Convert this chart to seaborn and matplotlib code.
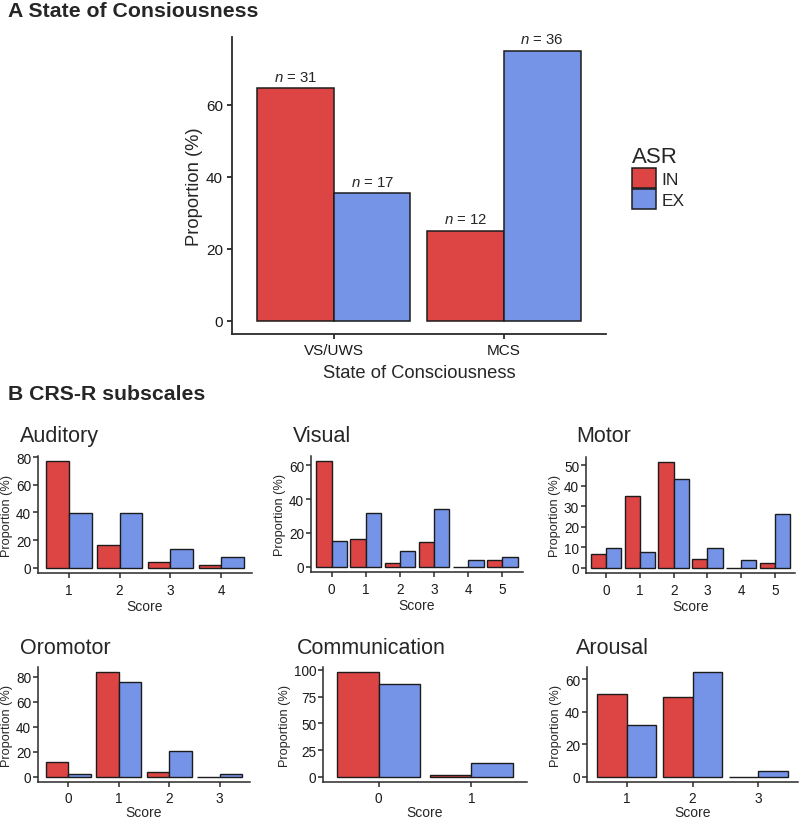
import numpy as np
import pandas as pd
import matplotlib
matplotlib.use("Agg")
import matplotlib.pyplot as plt
import seaborn as sns

# ---------------- data ----------------
groups = ["IN", "EX"]
soc_states = ["VS/UWS", "MCS"]
soc_in = [64.6, 25.0]
soc_ex = [35.4, 75.0]
soc_n_in = [31, 12]
soc_n_ex = [17, 36]

aud_scores = ["1", "2", "3", "4"]
aud_in = [77.1, 16.7, 4.2, 2.1]
aud_ex = [39.6, 39.6, 13.2, 7.5]

vis_scores = ["0", "1", "2", "3", "4", "5"]
vis_in = [62.5, 16.7, 2.1, 14.6, 0.0, 4.2]
vis_ex = [15.1, 32.1, 9.4, 34.0, 3.8, 5.7]

mot_scores = ["0", "1", "2", "3", "4", "5"]
mot_in = [6.6, 35.0, 51.5, 4.2, 0.0, 2.1]
mot_ex = [9.4, 7.5, 43.4, 9.4, 3.8, 26.4]

oro_scores = ["0", "1", "2", "3"]
oro_in = [11.8, 83.7, 4.2, 0.0]
oro_ex = [1.9, 75.5, 20.8, 1.9]

com_scores = ["0", "1"]
com_in = [97.9, 2.1]
com_ex = [86.8, 13.2]

aro_scores = ["1", "2", "3"]
aro_in = [51.1, 48.9, 0.0]
aro_ex = [32.1, 64.2, 3.8]

RED = "#DD4444"
BLUE = "#7594E8"
EDGE = "#1c1c1c"

sns.set_style("ticks")
plt.rcParams["font.family"] = ["Liberation Sans", "DejaVu Sans"]
plt.rcParams["mathtext.fontset"] = "custom"
plt.rcParams["mathtext.it"] = "Liberation Sans:italic"
plt.rcParams["mathtext.rm"] = "Liberation Sans"

W, H = 800, 820
fig = plt.figure(figsize=(W / 100, H / 100), dpi=100)


def add_ax(l, r, t, b):
    return fig.add_axes([l / W, 1 - b / H, (r - l) / W, (b - t) / H])


def long_df(cats, vin, vex, catname):
    return pd.DataFrame({
        catname: list(cats) * 2,
        "prop": list(vin) + list(vex),
        "ASR": ["IN"] * len(cats) + ["EX"] * len(cats),
    })


def style_axes(ax, lw=1.0):
    for s in ["top", "right"]:
        ax.spines[s].set_visible(False)
    for s in ["left", "bottom"]:
        ax.spines[s].set_color("#2a2a2a")
        ax.spines[s].set_linewidth(lw)
    ax.tick_params(axis="both", direction="out", length=3.5, width=lw,
                   color="#2a2a2a", labelcolor="#1a1a1a", pad=2)


# ---------------- Panel A ----------------
fig.text(8 / W, 1 - 17 / H, "A State of Consiousness", fontsize=15.3,
         fontweight="bold", ha="left", va="baseline")

axA = add_ax(232, 606, 38, 335)
dfA = long_df(soc_states, soc_in, soc_ex, "state")
sns.barplot(data=dfA, x="state", y="prop", hue="ASR", order=soc_states,
            hue_order=groups, palette=[RED, BLUE], width=0.9, gap=0,
            edgecolor=EDGE, linewidth=1.1, ax=axA, saturation=1)
mA = max(soc_in + soc_ex)
axA.set_ylim(-0.05 * mA, 1.05 * mA)
axA.set_xlim(-0.6, len(soc_states) - 0.4)
axA.set_yticks([0, 20, 40, 60])
style_axes(axA, 1.3)
axA.tick_params(labelsize=11, pad=3)
axA.set_xlabel("State of Consciousness", fontsize=13.2, labelpad=5)
axA.set_ylabel("Proportion (%)", fontsize=13.2, labelpad=2)
for cont, ns in zip(axA.containers, [soc_n_in, soc_n_ex]):
    axA.bar_label(cont, labels=[f"$n$ = {n}" for n in ns], fontsize=10.8,
                  padding=3)
handles, labels = axA.get_legend_handles_labels()
axA.get_legend().remove()
leg = fig.legend(handles, labels, title="ASR", loc="upper left",
                 bbox_to_anchor=(632 / W, 1 - 147 / H), frameon=False,
                 fontsize=12.5, title_fontsize=16, handlelength=1.4,
                 handleheight=1.4, labelspacing=0.05, handletextpad=0.3,
                 borderpad=0, borderaxespad=0, alignment="left")

# ---------------- Panel B ----------------
fig.text(8 / W, 1 - 400 / H, "B CRS-R subscales", fontsize=15.3,
         fontweight="bold", ha="left", va="baseline")

panels = [
    ("Auditory", aud_scores, aud_in, aud_ex, [0, 20, 40, 60, 80],
     (38, 252, 457, 574), (20, 442), 1),
    ("Visual", vis_scores, vis_in, vis_ex, [0, 20, 40, 60],
     (311, 523, 457, 573), (293, 442), 1),
    ("Motor", mot_scores, mot_in, mot_ex, [0, 10, 20, 30, 40, 50],
     (586, 795, 458, 574), (576, 442), 1),
    ("Oromotor", oro_scores, oro_in, oro_ex, [0, 20, 40, 60, 80],
     (38, 250, 668, 783), (20, 654), 2),
    ("Communication", com_scores, com_in, com_ex, [0, 25, 50, 75, 100],
     (323, 527, 668, 783), (297, 654), 2),
    ("Arousal", aro_scores, aro_in, aro_ex, [0, 20, 40, 60],
     (587, 798, 668, 783), (576, 654), 2),
]

for title, cats, vin, vex, yt, (l, r, t, b), (tx, ty), row in panels:
    ax = add_ax(l, r, t, b)
    df = long_df(cats, vin, vex, "Score")
    sns.barplot(data=df, x="Score", y="prop", hue="ASR", order=cats,
                hue_order=groups, palette=[RED, BLUE], width=0.9, gap=0,
                edgecolor=EDGE, linewidth=1.0, ax=ax, legend=False,
                saturation=1)
    m = max(list(vin) + list(vex))
    ax.set_ylim(-0.05 * m, 1.05 * m)
    ax.set_xlim(-0.6, len(cats) - 0.4)
    ax.set_yticks(yt)
    style_axes(ax, 1.1)
    ax.tick_params(length=3.5, labelsize=9.8)
    ax.tick_params(axis="x", pad=3.5 if row == 1 else 3)
    ax.tick_params(axis="y", pad=1.5)
    ax.set_xlabel("Score", fontsize=10, labelpad=1.5 if row == 1 else 0)
    ax.set_ylabel("Proportion (%)", fontsize=9.2, labelpad=2)
    fig.text(tx / W, 1 - ty / H, title, fontsize=15.5, ha="left",
             va="baseline")

fig.savefig("out.png", dpi=100, facecolor="white")
